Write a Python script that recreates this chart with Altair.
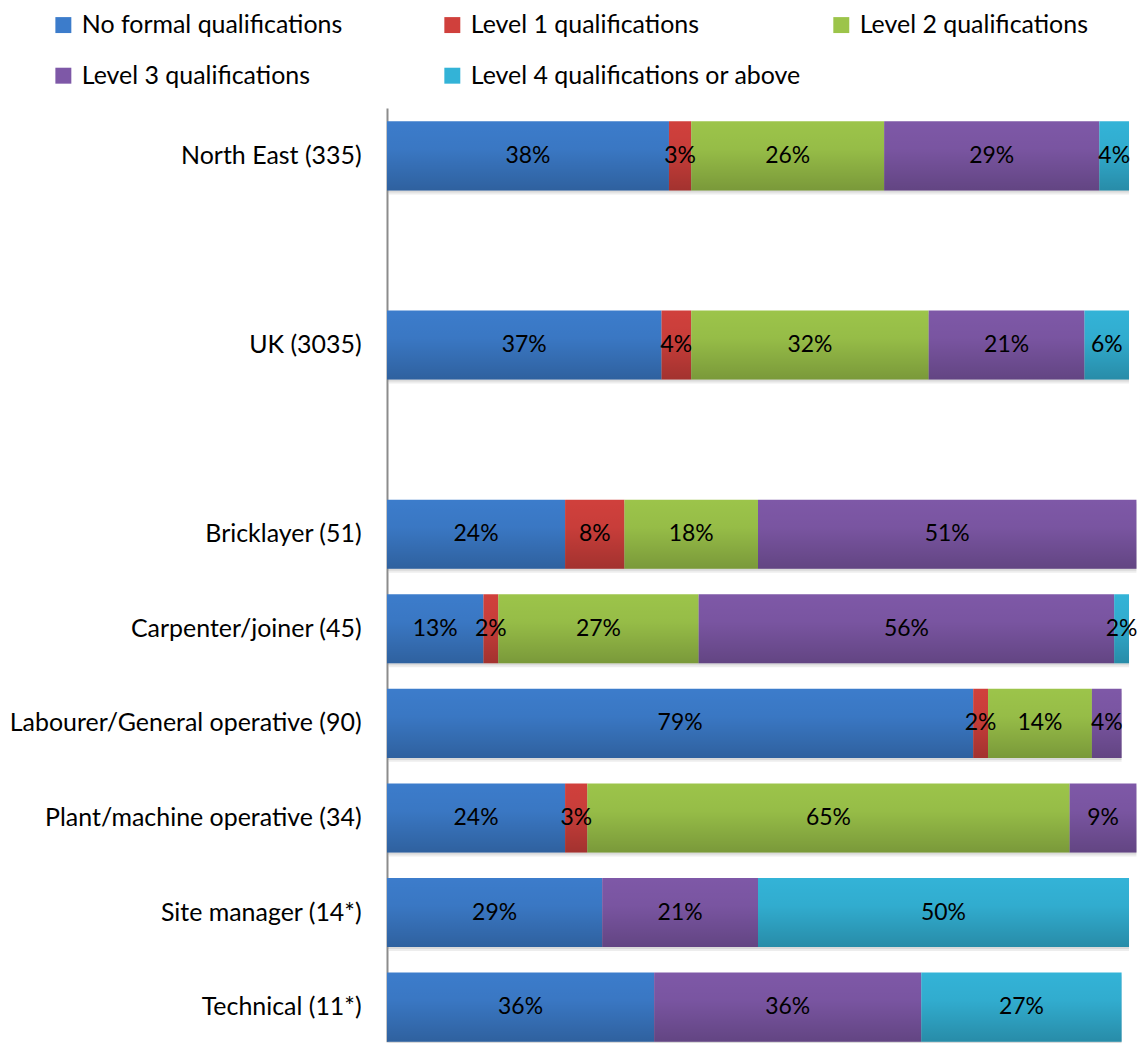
import altair as alt
import pandas as pd

categories = [
    "North East (335)", "UK (3035)", "Bricklayer (51)", "Carpenter/joiner (45)",
    "Labourer/General operative (90)", "Plant/machine operative (34)",
    "Site manager (14*)", "Technical (11*)",
]
levels = [
    "No formal qualifications", "Level 1 qualifications", "Level 2 qualifications",
    "Level 3 qualifications", "Level 4 qualifications or above",
]
no_formal = [38, 37, 24, 13, 79, 24, 29, 36]
level1 = [3, 4, 8, 2, 2, 3, 0, 0]
level2 = [26, 32, 18, 27, 14, 65, 0, 0]
level3 = [29, 21, 51, 56, 4, 9, 21, 36]
level4 = [4, 6, 0, 2, 0, 0, 50, 27]
colors = ["#3C7CCB", "#D0403C", "#9CC44A", "#7E58A7", "#33B3D7"]

y_domain = [categories[0], "_gap1", categories[1], "_gap2"] + categories[2:]

series = [no_formal, level1, level2, level3, level4]
rows = []
totals = []
for i, cat in enumerate(categories):
    start = 0
    for j, lev in enumerate(levels):
        v = series[j][i]
        if v > 0:
            rows.append({"cat": cat, "level": lev, "order": j, "value": v,
                         "start": start, "end": start + v, "mid": start + v / 2,
                         "label": f"{v}%"})
        start += v
    totals.append({"cat": cat, "start": 0, "end": start})
df = pd.DataFrame(rows)
df_tot = pd.DataFrame(totals)

FONT = "Lato"

y_enc = alt.Y(
    "cat:N",
    scale=alt.Scale(domain=y_domain, paddingInner=0.27, paddingOuter=0.07, align=1),
    axis=alt.Axis(
        title=None, ticks=False, labelPadding=26, labelFontSize=25, labelFont=FONT,
        labelColor="#000000", domainColor="#8C8C8C", domainWidth=2, grid=False,
        labelLimit=500,
        labelExpr="indexof(datum.label, '_gap') == 0 ? '' : datum.label",
    ),
)
x_scale = alt.Scale(domain=[0, 100], nice=False, zero=True)

base = alt.Chart(df)

shadow1 = alt.Chart(df_tot).mark_bar(color="#000000", opacity=0.07, xOffset=2, yOffset=4).encode(
    y=y_enc,
    x=alt.X("start:Q", scale=x_scale, axis=None),
    x2="end:Q",
)
shadow2 = alt.Chart(df_tot).mark_bar(color="#000000", opacity=0.08, xOffset=1, yOffset=2).encode(
    y=alt.Y("cat:N"),
    x=alt.X("start:Q"),
    x2="end:Q",
)

bars = base.mark_bar().encode(
    y=alt.Y("cat:N"),
    x=alt.X("start:Q"),
    x2="end:Q",
    color=alt.Color(
        "level:N",
        scale=alt.Scale(domain=levels, range=colors),
        legend=alt.Legend(
            title=None, orient="none", legendX=-337, legendY=-96,
            direction="horizontal", columns=3, gridAlign="all",
            columnPadding=27, rowPadding=25, symbolType="square",
            symbolSize=256, symbolStrokeWidth=0, labelFontSize=25,
            labelFont=FONT, labelColor="#000000", labelLimit=500, labelOffset=6,
        ),
    ),
)

gradient = alt.Gradient(
    gradient="linear",
    stops=[
        alt.GradientStop(color="rgba(0,0,0,0)", offset=0),
        alt.GradientStop(color="rgba(0,0,0,0.04)", offset=0.4),
        alt.GradientStop(color="rgba(0,0,0,0.22)", offset=1),
    ],
    x1=0, x2=0, y1=0, y2=1,
)

shade = base.mark_bar(color=gradient).encode(
    y=alt.Y("cat:N"),
    x=alt.X("start:Q"),
    x2="end:Q",
)

labels = base.mark_text(fontSize=23, font=FONT, color="#000000", align="center",
                        baseline="middle").encode(
    y=alt.Y("cat:N"),
    x=alt.X("mid:Q"),
    text="label:N",
)

chart = alt.layer(shadow1, shadow2, bars, shade, labels).properties(
    width=744, height=936,
    padding={"left": 380, "top": 99, "right": 8, "bottom": 0},
    autosize=alt.AutoSizeParams(type="none"),
).configure_view(stroke=None)

chart.save("out.html", embed_options={"renderer": "svg", "actions": False})
